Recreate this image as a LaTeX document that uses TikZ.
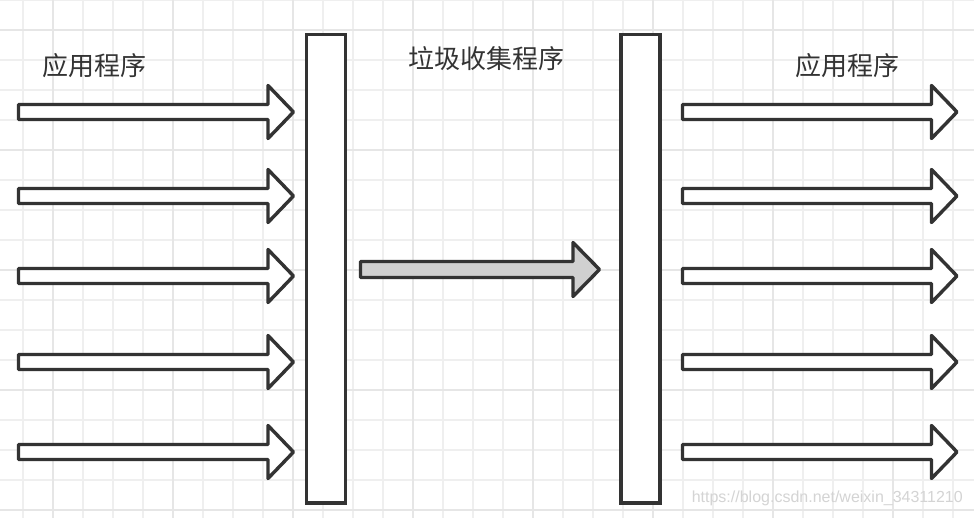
\documentclass[tikz,border=0pt]{standalone}
\usepackage{fontspec}
\newfontfamily\cjk{Noto Sans CJK SC}
\setsansfont{Liberation Sans}
\definecolor{ink}{HTML}{333333}
\definecolor{gridthin}{HTML}{EFEFEF}
\definecolor{gridthick}{HTML}{E6E6E6}
\definecolor{greyfill}{HTML}{D0D0D0}
\definecolor{mark}{HTML}{D4D4D4}
\tikzset{
  barbox/.style={draw=ink, line width=3.4pt, fill=white, inner sep=0pt, minimum width=39pt, minimum height=468.5pt},
  blockarrow/.style={draw=ink, line width=3.4pt, line join=round, fill=white},
  greyarrow/.style={blockarrow, fill=greyfill},
  lbl/.style={font=\cjk\fontsize{26}{26}\selectfont, text=ink, inner sep=0pt, text height=0.8em, text depth=0.1em},
}
\newcommand{\myarrow}[7][blockarrow]{% style, x0, xb, xt, y, half shaft, half head
  \draw[#1] (#2,#5-#6) -- (#3,#5-#6) -- (#3,#5-#7) -- (#4,#5) -- (#3,#5+#7) -- (#3,#5+#6) -- (#2,#5+#6) -- cycle;
}
\begin{document}
\begin{tikzpicture}[x=1pt,y=-1pt]
\useasboundingbox (0,0) rectangle (974,518);
\fill[white] (0,0) rectangle (974,518);
% grid
\foreach \gx in {23,53,...,983} \draw[gridthin, line width=1.5pt] (\gx,0) -- (\gx,518);
\foreach \gy in {0,30,...,520} \draw[gridthin, line width=1.5pt] (0,\gy) -- (974,\gy);
\foreach \gx in {53,173,...,983} \draw[gridthick, line width=2pt] (\gx,0) -- (\gx,518);
\foreach \gy in {30,150,...,520} \draw[gridthick, line width=2pt] (0,\gy) -- (974,\gy);
% bars
\node[barbox] (barL) at (326,268.75) {};
\node[barbox] (barR) at (640.5,268.75) {};
% left arrows
\foreach \ay in {112,196,276,362,452} { \myarrow{18.5}{268}{293.5}{\ay}{7.5}{26.5} }
% right arrows
\foreach \ay in {112,196,276,362,452} { \myarrow{682.5}{931.5}{957}{\ay}{7.5}{26.5} }
% grey arrow
\myarrow[greyarrow]{360.5}{573}{599.5}{269.5}{8}{27}
% labels
\node[lbl] (appL) at (94,72) {应用程序};
\node[lbl] (gc) at (486,65) {垃圾收集程序};
\node[lbl] (appR) at (847.5,72) {应用程序};
\node[font=\sffamily\fontsize{16}{16}\selectfont, text=mark, inner sep=0pt, anchor=east] (wm) at (963,498) {https://blog.csdn.net/weixin\_34311210};
\end{tikzpicture}
\end{document}
